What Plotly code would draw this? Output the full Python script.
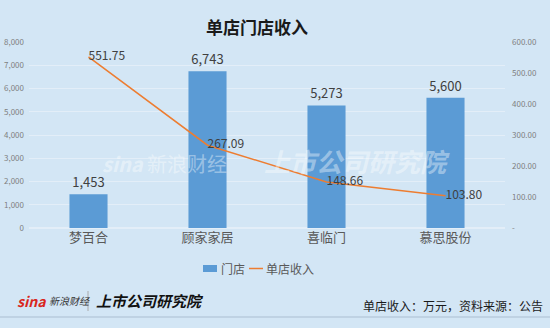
import plotly.graph_objects as go

categories = ["梦百合", "顾家家居", "喜临门", "慕思股份"]
stores = [1453, 6743, 5273, 5600]
revenue_per_store = [551.75, 267.09, 148.66, 103.80]
left_ticks = [0, 1000, 2000, 3000, 4000, 5000, 6000, 7000, 8000]
right_ticks = [0, 100, 200, 300, 400, 500, 600]
series_names = ["门店", "单店收入"]

BAR_C = "#5b9bd5"
LINE_C = "#ed7d31"
BG = "#d3e6f5"
FONT = "Noto Sans CJK SC, Noto Sans, sans-serif"

fig = go.Figure()
fig.add_trace(go.Bar(
    x=categories, y=stores, name=series_names[0], width=0.32,
    marker=dict(color=BAR_C, line=dict(width=0)),
    text=[f"{v:,}" for v in stores], textposition="outside",
    textfont=dict(size=13, color="#404040"), cliponaxis=False,
))
fig.add_trace(go.Scatter(
    x=categories, y=revenue_per_store, name=series_names[1], yaxis="y2",
    mode="lines+text", line=dict(color=LINE_C, width=1.5),
    text=[f"{v:.2f}" for v in revenue_per_store], textposition="middle right",
    textfont=dict(size=12, color="#404040"), cliponaxis=False,
))

annotations = [
    dict(text="<b>单店门店收入</b>", x=257, y=26, showarrow=False,
         xanchor="center", font=dict(size=17, color="#1a1a1a")),
    dict(text="单店收入：万元，资料来源：公告", x=545, y=305, showarrow=False,
         xanchor="right", font=dict(size=12, color="#1a1a1a")),
    dict(text="<b><i>sina</i></b>", x=15, y=301, showarrow=False, xanchor="left",
         font=dict(size=14, color="#d9261c")),
    dict(text="<i>新浪财经</i>", x=47, y=300, showarrow=False, xanchor="left",
         font=dict(size=10, color="#333333")),
    dict(text="<b><i>上市公司研究院</i></b>", x=94, y=300, showarrow=False, xanchor="left",
         font=dict(size=15, color="#111111")),
    dict(text="<b><i>sina</i></b> 新浪财经", x=100, y=163, showarrow=False, xanchor="left",
         font=dict(size=20, color="rgba(255,255,255,0.4)")),
    dict(text="<b><i>上市公司研究院</i></b>", x=262, y=160, showarrow=False, xanchor="left",
         font=dict(size=26, color="rgba(255,255,255,0.4)")),
    dict(text=series_names[0], x=219, y=268, showarrow=False, xanchor="left",
         font=dict(size=12, color="#595959")),
    dict(text=series_names[1], x=264, y=268, showarrow=False, xanchor="left",
         font=dict(size=12, color="#595959")),
]
W, H = 550, 328
L, R, T, B = 29, 45, 42, 100
pw, ph = W - L - R, H - T - B
def px(x):
    return (x - L) / pw
def py(y):
    return (H - B - y) / ph
for a in annotations:
    a["x"] = px(a["x"])
    a["y"] = py(a["y"])
    a["xref"] = "paper"
    a["yref"] = "paper"
    a["yanchor"] = "middle"

shapes = [
    dict(type="line", x0=px(0), x1=px(W), y0=py(317), y1=py(317),
         line=dict(color="#b8cbdc", width=1.5)),
    dict(type="line", x0=px(88), x1=px(88), y0=py(291), y1=py(311),
         line=dict(color="#aaaaaa", width=1)),
    # custom legend markers
    dict(type="rect", x0=px(203), x1=px(217), y0=py(272), y1=py(265),
         fillcolor=BAR_C, line=dict(width=0)),
    dict(type="line", x0=px(249), x1=px(263), y0=py(268.5), y1=py(268.5),
         line=dict(color=LINE_C, width=1.5)),
]
for s in shapes:
    s["xref"] = "paper"
    s["yref"] = "paper"

fig.update_layout(
    width=W, height=H,
    margin=dict(l=L, r=R, t=T, b=B, autoexpand=False),
    paper_bgcolor=BG, plot_bgcolor=BG,
    font=dict(family=FONT, color="#595959"),
    showlegend=False,
    xaxis=dict(showgrid=False, showline=False, ticks="", automargin=False,
               tickfont=dict(size=13, color="#595959")),
    yaxis=dict(range=[0, 8000], tickvals=left_ticks, automargin=False,
               ticktext=[f"{v:,}" for v in left_ticks],
               showgrid=True, gridcolor="#e3eef8", gridwidth=1,
               zeroline=True, zerolinecolor="#e3eef8",
               tickfont=dict(size=8, color="#7f7f7f"), ticklabelstandoff=4),
    yaxis2=dict(range=[0, 600], overlaying="y", side="right", automargin=False,
                tickvals=right_ticks,
                ticktext=["-"] + [f"{v:.2f}" for v in right_ticks[1:]],
                showgrid=False, zeroline=False,
                tickfont=dict(size=8, color="#7f7f7f"), ticklabelstandoff=6),
    annotations=annotations,
    shapes=shapes,
)

fig.write_html("out.html")
